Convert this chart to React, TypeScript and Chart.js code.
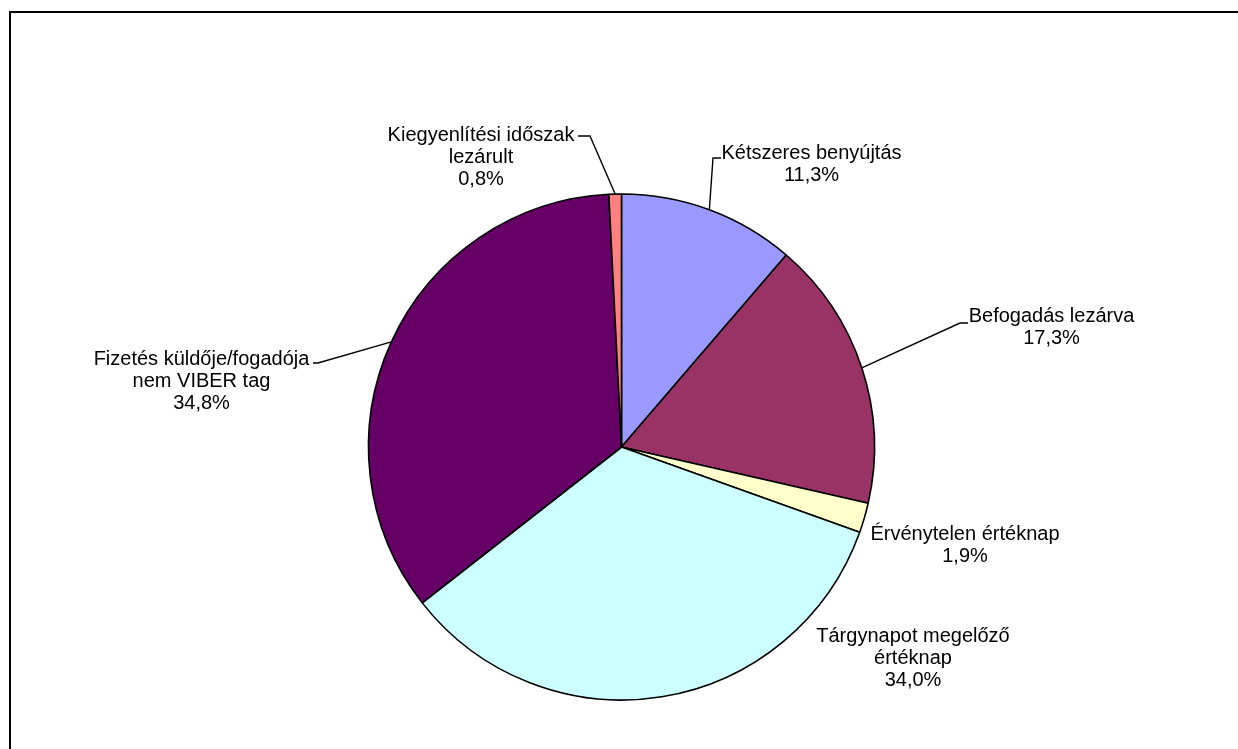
import React, { useEffect, useRef } from "react";
import { Chart, registerables } from "chart.js";

Chart.register(...registerables);

const categories = [
  "Kétszeres benyújtás",
  "Befogadás lezárva",
  "Érvénytelen értéknap",
  "Tárgynapot megelőző értéknap",
  "Fizetés küldője/fogadója nem VIBER tag",
  "Kiegyenlítési időszak lezárult",
];
const labelLines = [
  ["Kétszeres benyújtás"],
  ["Befogadás lezárva"],
  ["Érvénytelen értéknap"],
  ["Tárgynapot megelőző", "értéknap"],
  ["Fizetés küldője/fogadója", "nem VIBER tag"],
  ["Kiegyenlítési időszak", "lezárult"],
];
const values = [11.3, 17.3, 1.9, 34.0, 34.8, 0.8];
const colors = ["#9999FF", "#993366", "#FFFFCC", "#CCFFFF", "#660066", "#FF8080"];

// label layout, offsets from pie centre (px)
const labelLayout = [
  { cx: 190, by: -288, leader: [[91.5, -289], [99.5, -289]] },
  { cx: 430, by: -125, leader: [[338.5, -124], [346.5, -124]] },
  { cx: 343.5, by: 93, leader: null },
  { cx: 291.5, by: 195, leader: null },
  { cx: -420, by: -82, leader: [[-303.5, -84], [-308.5, -84]] },
  { cx: -140.5, by: -306.5, leader: [[-31.5, -311], [-43.5, -311]] },
];

const FONT = "20px 'Liberation Sans', Arial, sans-serif";
const LINE_H = 22;

const labelPlugin = {
  id: "pieLabels",
  afterDatasetsDraw(chart: any) {
    const ctx = chart.ctx as CanvasRenderingContext2D;
    const meta = chart.getDatasetMeta(0);
    ctx.save();
    meta.data.forEach((arc: any, i: number) => {
      const p = arc.getProps(["x", "y", "startAngle", "endAngle", "outerRadius"], true);
      const mid = (p.startAngle + p.endAngle) / 2;
      const ax = p.x + Math.cos(mid) * p.outerRadius;
      const ay = p.y + Math.sin(mid) * p.outerRadius;
      const lay = labelLayout[i];
      if (lay.leader) {
        ctx.beginPath();
        ctx.strokeStyle = "#000";
        ctx.lineWidth = 1.4;
        ctx.moveTo(ax, ay);
        lay.leader.forEach(([dx, dy]) => ctx.lineTo(p.x + dx, p.y + dy));
        ctx.stroke();
      }
      const lines = [...labelLines[i], values[i].toFixed(1).replace(".", ",") + "%"];
      ctx.fillStyle = "#000";
      ctx.font = FONT;
      ctx.textAlign = "center";
      ctx.textBaseline = "alphabetic";
      lines.forEach((t, k) => {
        ctx.fillText(t, p.x + lay.cx, p.y + lay.by + k * LINE_H);
      });
    });
    ctx.restore();
  },
};

export default function App() {
  const ref = useRef<HTMLCanvasElement | null>(null);
  useEffect(() => {
    if (!ref.current) return;
    const chart = new Chart(ref.current, {
      type: "pie",
      data: {
        labels: categories,
        datasets: [
          {
            data: values,
            backgroundColor: colors,
            borderColor: "#000",
            borderWidth: 1.6,
          },
        ],
      },
      options: {
        responsive: false,
        animation: false,
        radius: 253,
        layout: { padding: { left: 5, right: 0, top: 145, bottom: 0 } },
        plugins: {
          legend: { display: false },
          tooltip: { enabled: false },
          title: { display: false },
        },
      } as any,
      plugins: [labelPlugin],
    });
    return () => chart.destroy();
  }, []);
  return (
    <div
      style={{
        position: "fixed",
        left: 0,
        top: 0,
        width: 1238,
        height: 749,
        overflow: "hidden",
        background: "#fff",
      }}
    >
      <div
        style={{
          position: "absolute",
          left: 9,
          top: 11,
          width: 1300,
          height: 800,
          border: "2px solid #000",
          boxSizing: "border-box",
        }}
      />
      <canvas
        ref={ref}
        width={1238}
        height={749}
        style={{ position: "absolute", left: 0, top: 0, width: 1238, height: 749 }}
      />
    </div>
  );
}
